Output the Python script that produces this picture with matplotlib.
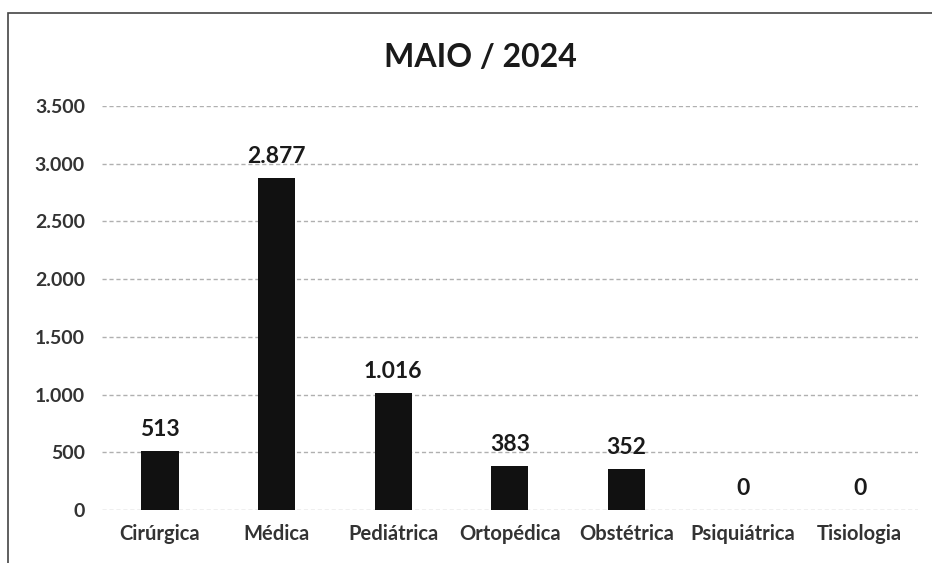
import matplotlib.pyplot as plt
from matplotlib.patches import Rectangle

plt.rcParams['font.family'] = ['Lato', 'DejaVu Sans']

categorias = ['Cirúrgica', 'Médica', 'Pediátrica', 'Ortopédica', 'Obstétrica', 'Psiquiátrica', 'Tisiologia']
valores = [513, 2877, 1016, 383, 352, 0, 0]
rotulos = ['513', '2.877', '1.016', '383', '352', '0', '0']
yticks = [0, 500, 1000, 1500, 2000, 2500, 3000, 3500]
yticklabels = ['0', '500', '1.000', '1.500', '2.000', '2.500', '3.000', '3.500']

fig = plt.figure(figsize=(9.32, 5.63), dpi=100)
ax = fig.add_axes([0.109, 0.094, 0.876, 0.718])

x = range(len(categorias))
barras = ax.bar(x, valores, width=0.32, color='#111111', zorder=3)
for b, r in zip(barras, rotulos):
    ax.annotate(r, (b.get_x() + b.get_width() / 2, b.get_height()),
                xytext=(0, 8), textcoords='offset points', ha='center', va='bottom',
                fontsize=16.5, fontweight='bold', color='#1a1a1a')

ax.set_ylim(0, 3500)
ax.set_xlim(-0.5, len(categorias) - 0.5)
ax.set_yticks(yticks)
ax.set_yticklabels(yticklabels)
ax.set_xticks(list(x))
ax.set_xticklabels(categorias)
ax.tick_params(axis='y', length=0, labelsize=14, labelcolor='#333333', pad=12)
ax.tick_params(axis='x', length=0, labelsize=14.5, labelcolor='#333333', pad=10)
for lab in ax.get_xticklabels() + ax.get_yticklabels():
    lab.set_fontweight('bold')
ax.grid(axis='y', color='#b0b0b0', linestyle=(0, (3, 2)), linewidth=1.0, zorder=0)
for s in ax.spines.values():
    s.set_visible(False)

fig.text(0.515, 0.898, 'MAIO / 2024', ha='center', va='center', fontsize=23, fontweight='bold', color='#1a1a1a')

# moldura do gráfico
fig.patches.append(Rectangle((0.009, -0.05), 1.2, 1.027, transform=fig.transFigure,
                             fill=False, edgecolor='#444444', linewidth=1.2))

fig.savefig('out.png', dpi=100)
